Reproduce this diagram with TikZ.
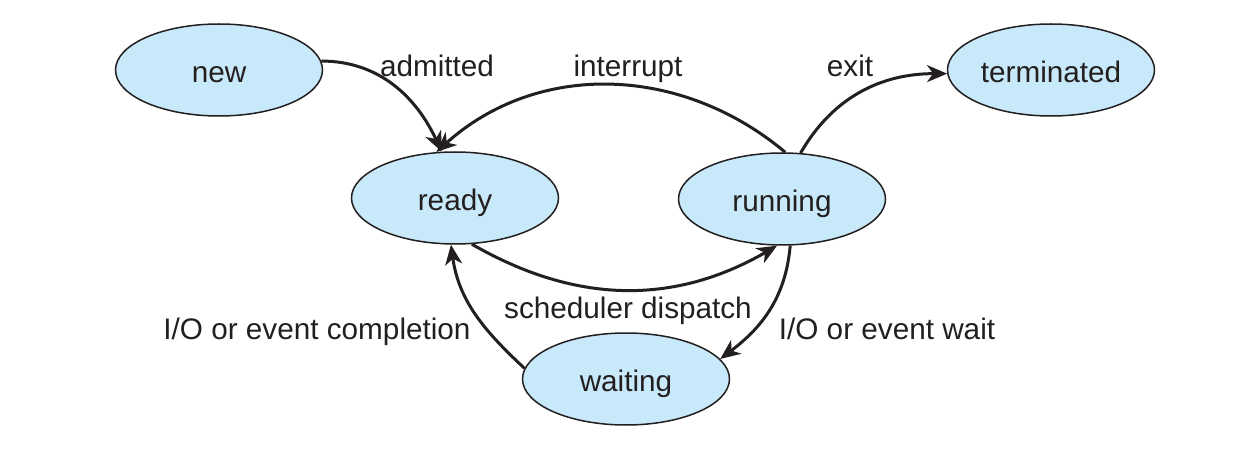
\documentclass[tikz,border=0pt]{standalone}
\usepackage{fontspec}
\setmainfont{Liberation Sans}
\usetikzlibrary{arrows.meta,shapes.geometric}
\definecolor{statefill}{HTML}{C8E9F9}
\definecolor{ink}{HTML}{231F20}

\begin{document}
\begin{tikzpicture}[x=1pt,y=-1pt,
  state/.style={ellipse,draw=ink,line width=1.5pt,fill=statefill,
    minimum width=207pt,minimum height=92pt,inner sep=0pt,
    text height=25pt,text depth=0pt,
    font=\fontsize{29.7}{34}\selectfont,text=ink},
  trans/.style={draw=ink,line width=3pt,
    -{Stealth[length=20pt,width=17pt,inset=6pt]}},
  lbl/.style={anchor=base,font=\fontsize{29.7}{34}\selectfont,text=ink,inner sep=0pt}]
\useasboundingbox (0,0) rectangle (1234,454);
% states:
\node[state] (new) at (219,70) {new};
\node[state] (terminated) at (1051,70) {terminated};
\node[state] (ready) at (455,198) {ready};
\node[state] (running) at (782,199) {running};
\node[state] (waiting) at (626,379) {waiting};
% transitions:
\draw[trans] (new.5) to[out=0,in=115] (ready.106)
;;\draw[trans] (running.86) to[out=140,in=42] (ready.112)
;;\draw[trans] (running.68) to[out=60,in=180] (terminated.182)
;;\draw[trans] (ready.-70) to[out=-30,in=-150] (running.-96)
;;\draw[trans] (running.-80) to[out=-95,in=37] (waiting.12)
;;\draw[trans] (waiting.174) to[out=137,in=-82] (ready.-95)
;;
% labels:
\node[lbl] (admitted) at (437,77) {admitted};
\node[lbl] (interrupt) at (628,77) {interrupt};
\node[lbl] (exit) at (850,77) {exit};
\node[lbl] (dispatch) at (628,319) {scheduler dispatch};
\node[lbl] (completion) at (317,339) {I/O or event completion};
\node[lbl] (wait) at (887,339) {I/O or event wait};
\end{tikzpicture}
\end{document}
